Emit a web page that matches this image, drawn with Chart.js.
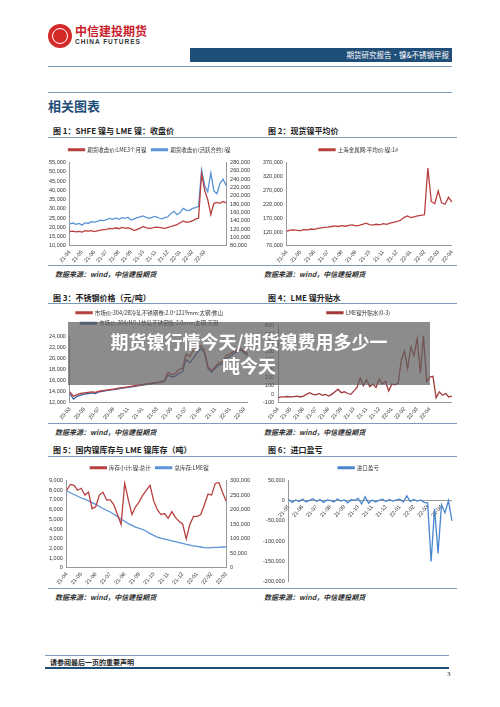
<!DOCTYPE html>
<html lang="zh">
<head>
<meta charset="UTF-8" />
<title>镍&不锈钢早报</title>
<script src="https://cdn.jsdelivr.net/npm/chart.js@4"></script>
<style>
  body { margin:0; width:500px; height:707px; background:#fff; position:relative; overflow:hidden;
         font-family:"Noto Sans CJK SC", sans-serif; }
  .abs { position:absolute; }
  .line { position:absolute; height:1px; background:#7a9cb8; }
  .ttl { position:absolute; font-size:8px; font-weight:bold; color:#222; }
  .src { position:absolute; font-size:7px; font-style:italic; font-weight:bold; color:#333; font-family:"Noto Sans CJK SC", serif; }
  .box { position:absolute; }
</style>
<script>
// ---- data ----
const months1 = ["21-04","21-05","21-06","21-07","21-08","21-09","21-10","21-11","21-12","22-01","22-02","22-03",""];
const lme1 = [17800,18000,17600,17900, 17500,18200,18000,18300, 17800,18200,18600,18800, 19000,19500,19200,19800,
  19300,20000,19600,19800, 19200,18300,19000,19600, 20500,19800,19500,19800, 20200,20000,19800,19500,
  20000,20500,21000,21500, 22500,23500,22800,23000, 23500,24500,25000,49000, 40000,35000,27000,33000,
  33500,33000,34000,33200];
const shfe1 = [133000,135000,132000,134000, 130000,136000,134000,138000, 137000,139000,142000,141000, 143000,146000,144000,147000,
  144000,148000,146000,149000, 142000,145000,148000,150000, 152000,148000,146000,149000, 151000,147000,145000,148000,
  150000,158000,163000,155000, 160000,170000,166000,165000, 170000,172000,175000,262000, 225000,210000,255000,212000,
  205000,230000,240000,225000];

const months2 = ["21-04","21-05","21-06","21-07","21-08","21-09","21-10","21-11","21-12","22-01","22-02","22-03","22-04"];
const spot2 = [123000,127000,128000,126000, 125000,129000,128000,131000, 130000,133000,135000,137000, 138000,140000,142000,140000,
  143000,141000,144000,146000, 142000,144000,148000,152000, 147000,145000,148000,146000, 150000,148000,152000,155000,
  158000,162000,172000,178000, 172000,175000,178000,180000, 182000,350000,230000,222000, 268000,225000,220000,245000, 228000];

const months3 = ["20-03","20-05","20-07","20-09","20-11","21-01","21-03","21-05","21-07","21-09","21-11","22-01","22-03"];
const ss2b = [14000,13200,13500,13700, 13800,13900,14000,13900, 14100,14200,14300,14400, 14500,14600,14700,14800,
  14900,15000,15100,15200, 15300,15400,15500,15600, 15700,15800,16000,17500, 17100,17300,18000,18200,
  20800,20300,21500,22000, 22300,21500,18500,17800, 18500,19200,19400,20500, 20800,21200,21500,21800, 21200,20800];
const ssNo1 = [13700,12700,13200,13400, 13600,13700,13800,13700, 14000,14100,14200,14300, 14400,14500,14600,14700,
  14800,14900,15000,15100, 15200,15300,15400,15500, 15600,15700,15900,17000, 16700,16800,17300,17600,
  19800,19200,20000,21000, 21800,21000,18200,17500, 18200,18800,19000,20000, 20300,20800,21200,21500, 20900,20500];

const months4 = ["21-04","21-05","21-06","21-07","21-08","21-09","21-10","21-11","21-12","22-01","22-02","22-03","22-04",""];
const lmeSpread = [-40,-30,-30,-25, -30,-25,-20,-30, -20,0,20,0, -5,10,-10,0, -20,0,30,60, 20,30,10,0,
  40,80,190,100, 170,90,120,80, 180,120,150,40, 120,110,130,400, 500,300,550,450, 650,250,680,150,
  200,210,-40,30, -10,10,-30,-20];

const months5 = ["21-04","21-05","21-06","21-07","21-08","21-09","21-10","21-11","21-12","22-01","22-02","22-03","22-04"];
const cnStock = [8000,8600,8500,8000, 8200,7500,7800,6100, 6300,7500,7800,7000, 7000,6500,5500,4500,
  8700,7000,5500,6300, 6800,7500,8000,8500, 6900,6000,5500,5600, 5100,5800,5200,4800,
  4500,3000,4500,5300, 5300,5500,6500,7600, 7500,8700,8800,7800, 6900];
const lmeStock = [265000,258000,252000,246000, 240000,236000,230000,224000, 218000,211000,204000,198000, 192000,184000,176000,168000,
  160000,152000,146000,140000, 136000,132000,126000,118000, 112000,106000,102000,99000, 96000,93000,90000,87000,
  84000,81000,78000,76000, 74000,72000,70000,69000, 70000,71000,71000,72000, 72000];

const months6 = ["21-05","21-06","21-07","21-08","21-09","21-10","21-11","21-12","22-01","22-02","22-03","22-04",""];
const importPL = [3000,-4000,2000,-2000, 4000,-3000,1000,5000, -2000,3000,-4000,2000, 1000,-3000,4000,-1000,
  2000,-5000,3000,1000, 6000,-8000,10000,-6000, 2000,-3000,1000,4000, -2000,3000,-1000,2000,
  4000,-3000,12000,-2000, 3000,-1000,2000,-4000, -5000,-150000,-20000,-130000, -10000,-30000,0,-50000];
</script>
</head>
<body>
<!-- header -->
<div class="abs" style="left:48px;top:24px;width:24px;height:24px;border-radius:50%;background:#d42a2a;"></div>
<div class="abs" style="left:52px;top:28px;width:16px;height:16px;border-radius:50%;border:1.5px solid #fff;box-sizing:border-box;"></div>
<div class="abs" style="left:75px;top:22px;font-size:12px;font-weight:bold;color:#c8202a;">中信建投期货</div>
<div class="abs" style="left:75px;top:38px;font-size:6.5px;font-weight:bold;color:#333;letter-spacing:1px;font-family:'Liberation Sans',sans-serif;">CHINA FUTURES</div>
<div class="abs" style="left:190px;top:48px;width:262px;height:14px;background:#1f4e79;color:#fff;font-size:7.5px;text-align:right;line-height:14px;padding-right:3px;box-sizing:border-box;">期货研究报告·镍&amp;不锈钢早报</div>
<div class="line" style="left:48px;top:66px;width:404px;"></div>
<div class="line" style="left:48px;top:92px;width:404px;"></div>
<div class="abs" style="left:48px;top:96px;font-size:13px;font-weight:bold;color:#1f4e79;">相关图表</div>

<div class="ttl" style="left:53px;top:125px;">图 1：SHFE 镍与 LME 镍：收盘价</div>
<div class="ttl" style="left:268px;top:125px;">图 2：现货镍平均价</div>
<div class="line" style="left:48px;top:137px;width:409px;"></div>
<div class="box" style="left:48px;top:142px;width:205px;height:122px;"><canvas id="c1"></canvas></div>
<div class="box" style="left:262px;top:142px;width:195px;height:122px;"><canvas id="c2"></canvas></div>
<div class="line" style="left:48px;top:265px;width:409px;"></div>
<div class="src" style="left:55px;top:269px;">数据来源：wind，中信建投期货</div>
<div class="src" style="left:264px;top:269px;">数据来源：wind，中信建投期货</div>

<div class="ttl" style="left:53px;top:292px;">图 3：不锈钢价格（元/吨）</div>
<div class="ttl" style="left:268px;top:292px;">图 4：LME 镍升贴水</div>
<div class="line" style="left:48px;top:303px;width:409px;"></div>
<div class="box" style="left:48px;top:305px;width:205px;height:116px;"><canvas id="c3"></canvas></div>
<div class="box" style="left:262px;top:305px;width:195px;height:116px;"><canvas id="c4"></canvas></div>
<div class="line" style="left:48px;top:423px;width:409px;"></div>
<div class="src" style="left:55px;top:427px;">数据来源：wind，中信建投期货</div>
<div class="src" style="left:264px;top:427px;">数据来源：wind，中信建投期货</div>

<div class="ttl" style="left:53px;top:444px;">图 5：国内镍库存与 LME 镍库存（吨）</div>
<div class="ttl" style="left:268px;top:444px;">图 6：进口盈亏</div>
<div class="line" style="left:48px;top:456px;width:409px;"></div>
<div class="box" style="left:48px;top:460px;width:205px;height:126px;"><canvas id="c5"></canvas></div>
<div class="box" style="left:262px;top:460px;width:195px;height:126px;"><canvas id="c6"></canvas></div>
<div class="line" style="left:48px;top:588px;width:409px;"></div>
<div class="src" style="left:55px;top:592px;">数据来源：wind，中信建投期货</div>
<div class="src" style="left:264px;top:592px;">数据来源：wind，中信建投期货</div>

<!-- footer -->
<div class="line" style="left:45px;top:655px;width:404px;"></div>
<div class="abs" style="left:50px;top:657px;font-size:7px;font-weight:bold;color:#222;font-family:'Noto Sans CJK SC',serif;">请参阅最后一页的重要声明</div>
<div class="abs" style="left:45px;top:667px;width:404px;height:2px;background:#1f4e79;"></div>
<div class="abs" style="left:447px;top:670px;font-size:7px;color:#222;font-family:'Liberation Serif',serif;">3</div>

<!-- overlay banner -->
<div class="abs" style="left:68px;top:322px;width:362px;height:63px;background:rgba(95,95,95,0.72);color:#fff;font-size:18px;font-weight:bold;text-align:center;line-height:24px;padding-top:7px;box-sizing:border-box;">期货镍行情今天/期货镍费用多少一<br>吨今天</div>

<script>
const RED = "#b8403f", BLUE = "#5b93d6";
const tickFont = { size: 5.5, family: "Liberation Sans" };
const legendFont = { size: 5.5, family: "Noto Sans CJK SC" };

function spread(data, months, per) {
  return data.map((_, i) => (i % per === 0 ? months[i / per] || "" : ""));
}
function xAxis(extra) {
  return Object.assign({
    grid: { display: false, drawTicks: true, tickLength: 3 },
    border: { color: "#999" },
    ticks: { font: tickFont, color: "#333", autoSkip: false, maxRotation: 50, minRotation: 50, padding: 0,
      callback: function (v) { return this.getLabelForValue(v); } }
  }, extra || {});
}
function yAxis(min, max, step, pos, extra) {
  return Object.assign({
    position: pos, min: min, max: max,
    grid: { display: false, drawTicks: true, tickLength: 3 },
    border: { color: "#999" },
    ticks: { stepSize: step, autoSkip: false, font: tickFont, color: "#333", padding: 1,
      callback: v => v.toLocaleString("en-US") }
  }, extra || {});
}
function ds(label, data, color, axis) {
  return { label: label, data: data, borderColor: color, backgroundColor: color, borderWidth: 1.3,
           pointRadius: 0, tension: 0, yAxisID: axis || "y" };
}
function make(id, labels, datasets, scales) {
  new Chart(document.getElementById(id), {
    type: "line",
    data: { labels: labels, datasets: datasets },
    options: {
      responsive: true, maintainAspectRatio: false, animation: false,
      layout: { padding: { left: 0, right: 2, top: 0, bottom: 0 } },
      plugins: {
        tooltip: { enabled: false },
        legend: { position: "top", labels: { font: legendFont, color: "#333", boxWidth: 16, boxHeight: 1.5, padding: 5 } }
      },
      scales: scales
    }
  });
}

make("c1", spread(lme1, months1, 4),
  [ds("期货收盘价:LME3个月镍", lme1, RED, "y"), ds("期货收盘价(活跃合约):镍", shfe1, BLUE, "y1")],
  { x: xAxis(), y: yAxis(10000, 55000, 5000, "left"), y1: yAxis(80000, 280000, 20000, "right") });

make("c2", spread(spot2, months2, 4),
  [ds("上海金属网:平均价:镍:1#", spot2, RED)],
  { x: xAxis(), y: yAxis(70000, 370000, 50000, "left") });

make("c3", spread(ss2b, months3, 4),
  [ds("市场价:304/2B冷轧不锈钢卷:2.0*1219mm:太钢:佛山", ss2b, RED),
   ds("市场价:304/NO.1热轧不锈钢板:3.0mm:太钢:无锡", ssNo1, "#3d5f9e")],
  { x: xAxis(), y: yAxis(12000, 24000, 2000, "left") });

make("c4", spread(lmeSpread, months4, 4),
  [ds("LME镍升贴水(0-3)", lmeSpread, "#a33a3a")],
  { x: xAxis(), y: yAxis(-100, 800, 100, "left") });

make("c5", spread(cnStock, months5, 4),
  [ds("库存小计:镍:总计", cnStock, RED, "y"), ds("总库存:LME镍", lmeStock, BLUE, "y1")],
  { x: xAxis(), y: yAxis(0, 9000, 1000, "left"), y1: yAxis(0, 300000, 50000, "right") });

make("c6", spread(importPL, months6, 4),
  [ds("进口盈亏", importPL, "#4a86d0")],
  { x: xAxis({ position: { y: 0 } }), y: yAxis(-200000, 50000, 50000, "left") });
</script>
</body>
</html>
